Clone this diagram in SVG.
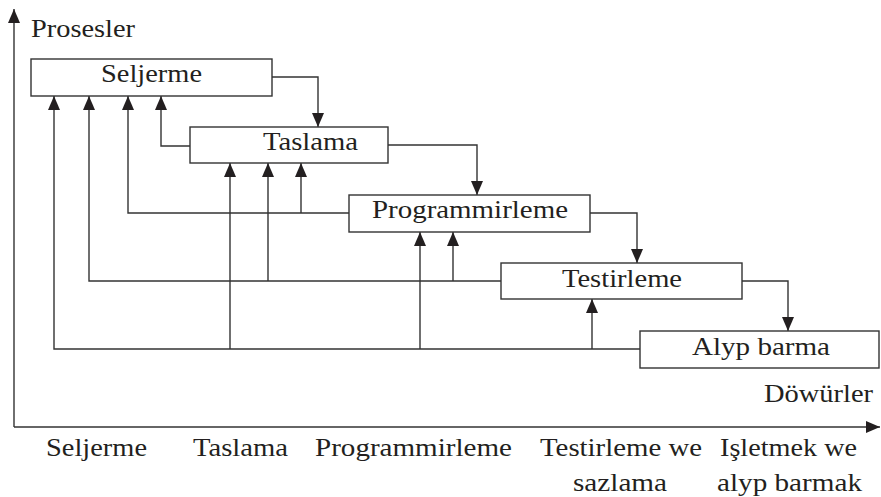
<svg xmlns="http://www.w3.org/2000/svg" width="881" height="497" viewBox="0 0 881 497">
<style>
text{font-family:'Liberation Serif','Times New Roman',Times,serif;font-size:26px;fill:#231f20}
.box{fill:#fff;stroke:#333;stroke-width:1.4}
.ln{fill:none;stroke:#333;stroke-width:1.4}
.ar{marker-end:url(#ah)}
</style>
<defs>
<marker id="ah" viewBox="0 0 14 12" refX="14" refY="6" markerWidth="14" markerHeight="12" markerUnits="userSpaceOnUse" orient="auto">
<path d="M0,0 L14,6 L0,12 z" fill="#231f20"/>
</marker>
</defs>
<g id="axes">
<path class="ln ar" d="M14,427 V9"/>
<path class="ln ar" d="M14,427 H880"/>
<text x="31" y="37" textLength="104" lengthAdjust="spacingAndGlyphs">Prosesler</text>
<text x="764" y="402" textLength="109" lengthAdjust="spacingAndGlyphs">Döwürler</text>
</g>
<g id="connectors">
<path class="ln ar" d="M272,77 H318 V127"/>
<path class="ln ar" d="M388,145 H477 V195"/>
<path class="ln ar" d="M590,213 H637 V263"/>
<path class="ln ar" d="M742,281 H788 V331"/>
<path class="ln ar" d="M190,146 H161 V96"/>
<path class="ln ar" d="M349,213 H128 V96"/>
<path class="ln ar" d="M301,213 V163"/>
<path class="ln ar" d="M501,281 H89 V96"/>
<path class="ln ar" d="M268,281 V163"/>
<path class="ln ar" d="M453,281 V232"/>
<path class="ln ar" d="M640,349 H54 V96"/>
<path class="ln ar" d="M230,349 V163"/>
<path class="ln ar" d="M420,349 V232"/>
<path class="ln ar" d="M592,349 V299"/>
</g>
<g id="seljerme">
<rect class="box" x="31" y="59" width="241" height="37"/>
<text x="101" y="82" textLength="101" lengthAdjust="spacingAndGlyphs">Seljerme</text>
</g>
<g id="taslama">
<rect class="box" x="190" y="127" width="198" height="36"/>
<text x="263" y="150" textLength="95" lengthAdjust="spacingAndGlyphs">Taslama</text>
</g>
<g id="programmirleme">
<rect class="box" x="349" y="195" width="241" height="37"/>
<text x="372" y="218" textLength="196" lengthAdjust="spacingAndGlyphs">Programmirleme</text>
</g>
<g id="testirleme">
<rect class="box" x="501" y="263" width="241" height="36"/>
<text x="562" y="287" textLength="120" lengthAdjust="spacingAndGlyphs">Testirleme</text>
</g>
<g id="alyp-barma">
<rect class="box" x="640" y="331" width="239" height="37"/>
<text x="692" y="355" textLength="138" lengthAdjust="spacingAndGlyphs">Alyp barma</text>
</g>
<g id="phases">
<text x="46" y="456" textLength="101" lengthAdjust="spacingAndGlyphs">Seljerme</text>
<text x="193" y="456" textLength="95" lengthAdjust="spacingAndGlyphs">Taslama</text>
<text x="315" y="456" textLength="197" lengthAdjust="spacingAndGlyphs">Programmirleme</text>
<text x="540" y="456" textLength="162" lengthAdjust="spacingAndGlyphs">Testirleme we</text>
<text x="720" y="456" textLength="137" lengthAdjust="spacingAndGlyphs">Işletmek we</text>
<text x="573" y="491" textLength="94" lengthAdjust="spacingAndGlyphs">sazlama</text>
<text x="717" y="491" textLength="145" lengthAdjust="spacingAndGlyphs">alyp barmak</text>
</g>
</svg>
